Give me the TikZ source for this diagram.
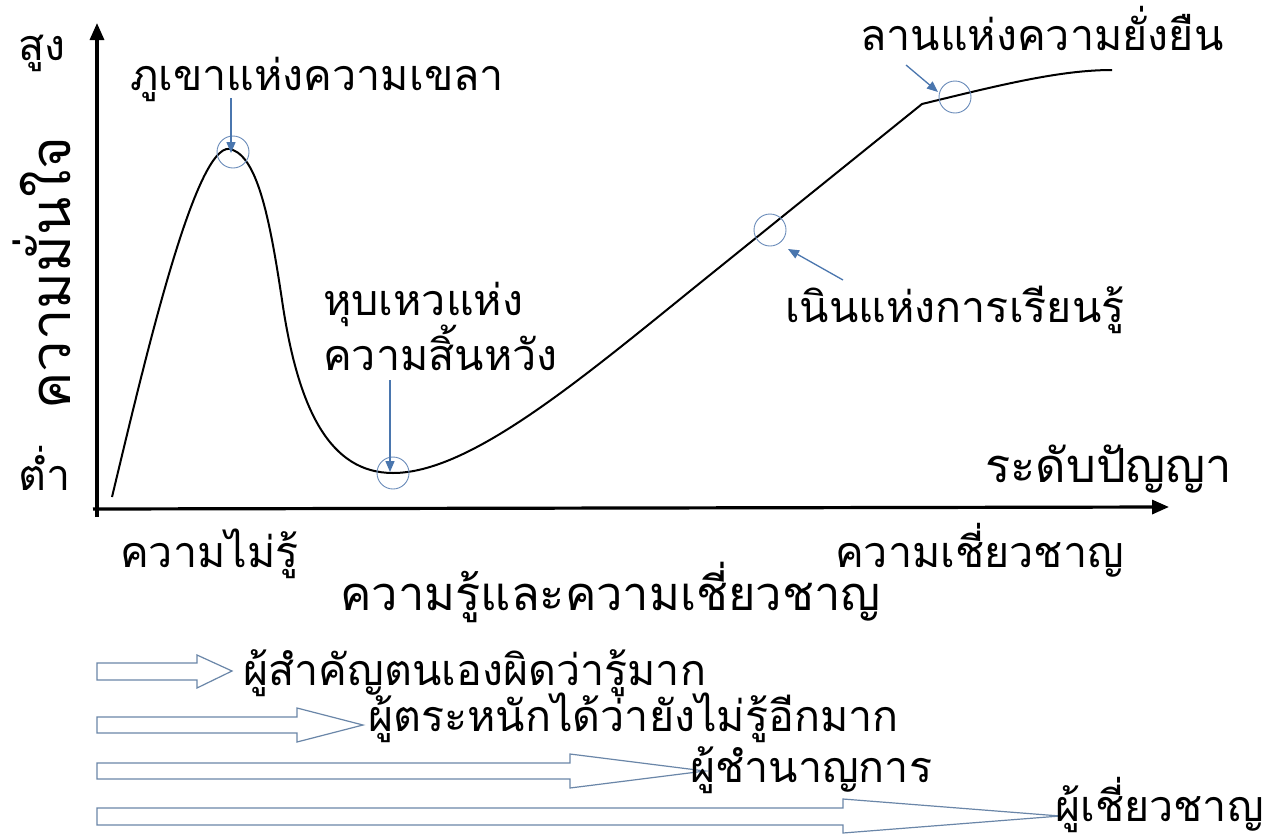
\documentclass[tikz,border=0pt]{standalone}
\usepackage{fontspec}
\newfontfamily\thai[Script=Thai]{Loma}
\usetikzlibrary{arrows.meta}
\definecolor{anncol}{HTML}{4A76AE}
\definecolor{ringcol}{HTML}{6B8CBA}
\definecolor{blkcol}{HTML}{6A86A8}
\begin{document}
\begin{tikzpicture}[x=1pt,y=-1pt,
  lbl/.style={inner sep=0pt, anchor=base west, font=\thai\fontsize{43}{47}\selectfont},
  big/.style={inner sep=0pt, anchor=base west, font=\thai\fontsize{47}{51}\selectfont},
  rowtxt/.style={inner sep=0pt, anchor=base west, font=\thai\fontsize{43}{47}\selectfont},
  ring/.style={circle, draw=ringcol, line width=0.9pt, minimum size=32pt, inner sep=0pt},
  annarrow/.style={draw=anncol, line width=1.3pt, -{Triangle[length=11pt,width=9pt]}},
  axisline/.style={line width=3.2pt, -{Triangle[length=17pt,width=14pt]}},
  curveline/.style={line width=2pt, line join=round},
  blockarrow/.style={draw=blkcol, line width=1.2pt, fill=white, line join=miter}
]
\useasboundingbox (0,0) rectangle (1279,838);
\fill[white] (0,0) rectangle (1279,838);

% axes
\coordinate (origin) at (97,517);
\coordinate (ytop) at (97,23);
\coordinate (xorg) at (93,509);
\coordinate (xend) at (1169,507);
\draw[axisline] (origin) -- (ytop);
\draw[axisline] (xorg) -- (xend);

% curve
\draw[curveline] (112,497) .. controls (145,360) and (198,130) .. (233,150)
  .. controls (258,160) and (270,220) .. (282,300)
  .. controls (298,410) and (330,473) .. (393,473)
  .. controls (470,473) and (580,380) .. (700,283)
  -- (922,104)
  .. controls (1000,85) and (1060,70) .. (1112,70);

% rings
\node[ring] (c1) at (233,152) {};
\node[ring] (c2) at (393,473) {};
\node[ring] (c3) at (770,230) {};
\node[ring] (c4) at (955,97) {};

% annotation arrows
\coordinate (a1) at (231,98);
\coordinate (a2) at (390,380);
\coordinate (a3) at (843,280);
\coordinate (a4) at (906,65);
\draw[annarrow] (a1) -- (231,153);
\draw[annarrow] (a2) -- (390,472);
\draw[annarrow] (a3) -- (788,249);
\draw[annarrow] (a4) -- (938,92);

% labels
\node[lbl] (high) at (18,60) {สูง};
\node[lbl] (low) at (18,490) {ต่ำ};
\node[big, font=\thai\fontsize{56}{60}\selectfont, rotate=90] (conf) at (70,410) {ความมั่นใจ};
\node[lbl] (mount) at (130,90) {ภูเขาแห่งความเขลา};
\node[lbl] (valley1) at (323,315) {หุบเหวแห่ง};
\node[lbl] (valley2) at (323,370) {ความสิ้นหวัง};
\node[lbl] (slope) at (785,322) {เนินแห่งการเรียนรู้};
\node[lbl] (plateau) at (860,50) {ลานแห่งความยั่งยืน};
\node[big, font=\thai\fontsize{47}{51}\selectfont] (wisdom) at (985,482) {ระดับปัญญา};
\node[lbl] (ignor) at (120,567) {ความไม่รู้};
\node[lbl] (expert) at (835,567) {ความเชี่ยวชาญ};
\node[big] (xlabel) at (340,610) {ความรู้และความเชี่ยวชาญ};

% block arrows
\draw[blockarrow] (97,663) -- (197,663) -- (197,655) -- (232,671) -- (197,688) -- (197,680) -- (97,680) -- cycle;
\draw[blockarrow] (97,717) -- (297,717) -- (297,708) -- (363,725) -- (297,742) -- (297,733) -- (97,733) -- cycle;
\draw[blockarrow] (97,763) -- (570,763) -- (570,754) -- (705,771) -- (570,788) -- (570,779) -- (97,779) -- cycle;
\draw[blockarrow] (97,808) -- (843,808) -- (843,799) -- (1060,816) -- (843,833) -- (843,825) -- (97,825) -- cycle;

\node[rowtxt] (r1) at (243,685) {ผู้สำคัญตนเองผิดว่ารู้มาก};
\node[rowtxt] (r2) at (368,731) {ผู้ตระหนักได้ว่ายังไม่รู้อีกมาก};
\node[rowtxt] (r3) at (690,782) {ผู้ชำนาญการ};
\node[rowtxt] (r4) at (1055,821) {ผู้เชี่ยวชาญ};
\end{tikzpicture}
\end{document}
